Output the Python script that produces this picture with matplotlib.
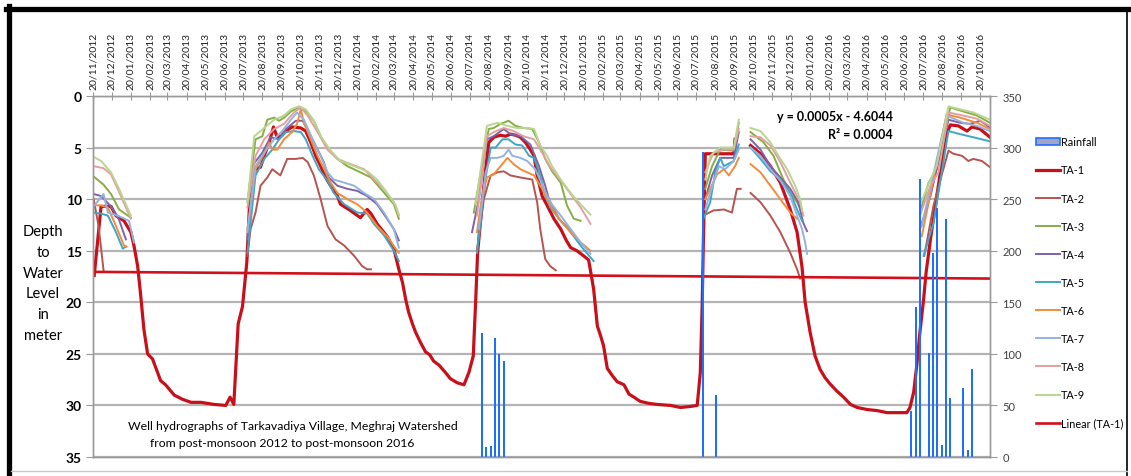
"""Well hydrographs of Tarkavadiya Village (Meghraj Watershed), 2012-2016."""

import matplotlib

matplotlib.use("Agg")
import matplotlib.dates as mdates
import matplotlib.pyplot as plt
import numpy as np
import pandas as pd
from matplotlib.lines import Line2D
from matplotlib.patches import Patch

plt.rcParams["font.family"] = ["Lato", "DejaVu Sans"]

START = pd.Timestamp("2012-11-20")
END_DAY = 1446  # right edge of the date axis, days after START

# Observations: days after 20/11/2012 and depth to water level (m).
# None marks a break in the record (well dry / not measured).
ta1_days = [2, 13, 29, 37, 50, 61, 66, 72, 77, 82, 88, 96, 104, 109, 117, 131, 144, 158, 174, 195,
            214, 221, 227, 234, 241, 245, 248, 254, 262, 270, 276, 284, 291, 297, 303, 311, 321, 335,
            343, 351, 359, 367, 375, 383, 394, 399, 415, 431, 442, 448, 458, 474, 485, 493, 499, 504,
            509, 515, 520, 528, 536, 543, 549, 558, 568, 576, 587, 598, 606, 613, 617, 620, 627, 633,
            638, 646, 657, 665, 673, 681, 689, 697, 705, 711, 716, 724, 732, 743, 754, 763, 770, 780,
            791, 799, 807, 813, 818, 823, 829, 837, 845, 856, 864, 872, 882, 896, 909, 931, 947, 963,
            974, 979, 982, 984, 987, 1011, 1033, 1035, None, 1060, 1076, 1092, 1108, 1124, 1135, 1143,
            1148, 1156, 1164, 1172, 1180, 1188, 1199, 1210, 1221, 1232, 1248, 1264, 1280, 1296, 1312,
            1317, 1323, 1328, 1333, 1339, 1343, 1350, 1358, 1366, 1374, 1382, 1395, 1409, 1417, 1430,
            1446]
ta1_depth = [17.4, 10.7, 10.7, 11.6, 12.1, 13.2, 14.5, 16.5, 19.4, 22.6, 25.0, 25.5, 26.8, 27.6, 28.0,
             29.0, 29.4, 29.7, 29.7, 29.9, 30.0, 29.2, 29.9, 22.1, 20.4, 18.0, 16.1, 8.4, 7.1, 6.9, 5.8,
             4.5, 3.0, 4.0, 3.9, 3.4, 3.0, 3.1, 3.4, 4.5, 5.8, 6.8, 7.9, 8.7, 9.7, 10.5, 11.1, 11.8,
             11.0, 11.4, 12.4, 13.6, 14.8, 16.8, 18.1, 19.7, 21.0, 22.1, 22.9, 23.9, 24.8, 25.1, 25.7,
             26.1, 26.8, 27.4, 27.8, 28.0, 26.8, 25.2, 19.7, 15.2, 10.6, 7.1, 4.5, 4.0, 3.8, 3.9, 3.7,
             3.8, 4.0, 4.5, 5.2, 5.8, 7.7, 9.7, 10.6, 11.9, 12.9, 14.0, 14.7, 15.0, 15.5, 15.9, 18.7,
             22.3, 23.2, 24.2, 26.4, 27.1, 27.7, 28.0, 28.9, 29.2, 29.6, 29.8, 29.9, 30.0, 30.2, 30.1,
             30.0, 26.8, 20.3, 13.9, 5.6, 5.6, 5.6, 4.2, None, 4.8, 5.6, 6.8, 8.4, 11.0, 13.2, 16.6,
             20.0, 22.9, 25.2, 26.5, 27.3, 27.9, 28.6, 29.2, 29.9, 30.2, 30.4, 30.5, 30.7, 30.7, 30.7,
             30.2, 28.7, 26.1, 22.9, 19.7, 17.1, 13.9, 10.6, 7.4, 4.0, 2.8, 2.9, 3.4, 3.0, 3.2, 4.0]

ta2_days = [1, 9, 17, None,
            249, 254, 262, 270, 281, 289, 302, 313, 327, 338, 346, 356, 367, 378, 391, 405, 421, 434, 442, 448, None,
            619, 630, 641, 652, 662, 673, 689, 708, 716, 721, 729, 737, 746, None,
            987, 1000, 1017, 1030, 1038, 1044, None, 1060, 1076, 1092, 1108, 1124, 1135, 1140, None,
            1340, 1355, 1368, 1379, 1387, 1401, 1411, 1419, 1433, 1446]
ta2_depth = [10.0, 12.6, 16.9, None,
             15.5, 12.9, 11.3, 8.7, 7.9, 7.1, 7.7, 6.1, 6.1, 6.0, 6.4, 7.7, 10.0, 12.6, 13.9, 14.5, 15.5, 16.5, 16.8, 16.8, None,
             15.2, 10.0, 7.7, 7.4, 7.3, 7.7, 7.9, 8.1, 10.3, 12.9, 15.8, 16.5, 16.9, None,
             11.5, 11.1, 11.0, 11.3, 9.0, 9.0, None, 9.4, 10.3, 11.6, 13.2, 15.2, 16.8, 17.7, None,
             15.5, 10.6, 7.7, 5.3, 5.6, 5.8, 6.3, 6.1, 6.3, 6.9]

ta3_days = [1, 17, 29, 42, 61, None,
            249, 262, 273, 281, 292, 300, 308, 319, 332, 343, 356, 367, 378, 394, 410, 431, 448, 464, 474, 485, 493, None,
            614, 625, 638, 646, 657, 670, 681, 694, 708, 719, 729, 740, 754, 764, 775, 786, None,
            987, 998, 1011, 1033, 1041, None, 1060, 1081, 1097, 1113, 1124, 1135, 1143, None,
            1333, 1347, 1360, 1382, 1403, 1425, 1446]
ta3_depth = [7.8, 8.6, 9.5, 11.0, 11.8, None,
             10.3, 4.2, 3.9, 2.3, 2.1, 2.4, 2.1, 1.5, 1.1, 1.5, 2.4, 3.9, 5.0, 6.1, 6.8, 7.4, 7.9, 9.0, 9.7, 10.5, 11.9, None,
             11.3, 7.4, 3.2, 3.1, 2.7, 2.4, 2.9, 3.1, 3.2, 4.5, 6.1, 7.3, 8.4, 10.6, 11.9, 12.1, None,
             9.0, 6.8, 5.2, 5.3, 2.6, None, 3.5, 4.5, 5.8, 8.1, 9.4, 10.3, 11.3, None,
             11.3, 8.4, 7.1, 1.1, 1.5, 1.9, 2.6]

ta4_days = [1, 13, 29, 42, 53, None,
            249, 260, 273, 286, 300, 311, 327, 338, 348, 362, 372, 380, 394, 410, 426, 442, 458, 474, 485, 493, None,
            611, 622, 635, 646, 662, 673, 689, 705, 719, 729, 735, 740, 751, 764, 780, 797, None,
            987, 998, 1011, 1033, 1041, None, 1060, 1076, 1092, 1108, 1124, 1137, 1145, 1151, None,
            1333, 1350, 1379, 1398, 1414, 1430, 1438, 1446]
ta4_depth = [9.5, 9.7, 10.7, 12.0, 13.9, None,
             13.9, 6.5, 5.5, 4.0, 4.2, 3.2, 2.4, 2.4, 3.5, 5.2, 6.4, 7.9, 8.7, 9.0, 9.2, 9.7, 10.5, 11.9, 12.9, 14.0, None,
             13.2, 10.0, 4.2, 3.9, 3.2, 3.7, 3.9, 4.7, 6.8, 8.7, 10.0, 10.6, 11.9, 12.7, 13.9, 14.8, None,
             10.0, 7.7, 6.0, 6.0, 3.5, None, 4.2, 5.2, 6.8, 7.9, 9.0, 10.3, 12.3, 13.1, None,
             12.9, 9.7, 2.3, 2.6, 2.7, 2.4, 2.7, 3.1]

ta5_days = [1, 13, 24, 37, 48, 53, None,
            249, 262, 276, 289, 300, 311, 324, 335, 343, 354, 364, 378, 388, 405, 426, 442, 453, 469, 485, 493, None,
            619, 630, 641, 649, 660, 670, 681, 692, 703, 711, 721, 729, 737, 754, 770, 786, 797, 807, None,
            984, 995, 1003, 1011, 1017, 1033, 1041, None, 1060, 1076, 1092, 1108, 1124, 1135, 1143, None,
            1339, 1355, 1379, 1398, 1419, 1446]
ta5_depth = [11.3, 11.4, 11.6, 13.2, 14.8, 14.6, None,
             15.2, 7.7, 6.1, 5.2, 4.2, 3.5, 3.4, 3.5, 4.2, 5.8, 7.1, 8.2, 9.4, 10.5, 11.3, 11.4, 12.4, 13.5, 15.0, 16.0, None,
             15.2, 9.0, 5.0, 5.0, 4.2, 4.2, 4.7, 4.8, 5.8, 6.0, 7.7, 9.7, 10.8, 12.1, 13.2, 14.5, 15.3, 16.0, None,
             11.9, 10.3, 7.4, 6.0, 6.8, 6.3, 4.7, None, 5.0, 6.1, 7.3, 8.1, 9.4, 11.0, 12.1, None,
             15.5, 12.3, 3.4, 3.7, 4.0, 4.4]

ta6_days = [1, 13, 24, 37, 50, 54, None,
            249, 262, 276, 284, 289, 297, 308, 321, 329, 335, 340, 351, 362, 375, 383, 394, 410, 426, 442, 458, 474, 488, 493, None,
            619, 625, 635, 646, 657, 668, 678, 689, 700, 711, 724, 737, 754, 770, 786, 802, None,
            987, 995, 1006, 1017, 1025, 1035, 1041, None, 1060, 1076, 1092, 1108, 1124, 1135, None,
            1336, 1376, 1398, 1425, 1446]
ta6_depth = [10.6, 10.6, 10.8, 12.6, 14.5, 14.6, None,
             12.9, 7.1, 5.6, 4.5, 5.2, 5.2, 4.2, 3.5, 2.7, 1.3, 2.6, 4.2, 5.8, 7.4, 8.4, 9.4, 10.0, 10.5, 11.3, 12.6, 13.6, 14.8, 15.2, None,
             13.2, 10.6, 7.9, 7.6, 6.8, 6.0, 6.6, 7.1, 7.4, 7.7, 9.0, 10.6, 12.1, 13.2, 14.2, 15.0, None,
             10.0, 9.0, 7.6, 7.1, 7.7, 6.8, 6.0, None, 6.6, 7.4, 8.7, 10.0, 11.3, 11.9, None,
             13.6, 1.8, 2.1, 2.6, 3.2]

ta7_days = [1, 13, 17, 24, 40, 58, 66, None,
            249, 262, 276, 292, 305, 319, 329, 340, 354, 367, 378, 388, 405, 421, 437, 453, 469, 485, 493, None,
            622, 633, 641, 652, 662, 670, 676, 689, 700, 713, 727, 737, 754, 770, 786, 802, None,
            987, 1000, 1009, 1019, 1033, 1041, None, 1060, 1076, 1092, 1108, 1124, 1135, 1143, 1148, 1151, None,
            1336, 1376, 1403, 1425, 1446]
ta7_depth = [10.7, 9.8, 9.5, 11.3, 11.6, 12.1, 14.2, None,
             13.2, 6.8, 5.5, 4.2, 3.4, 2.3, 1.6, 2.3, 4.2, 5.8, 7.4, 8.1, 8.4, 8.7, 9.4, 10.0, 11.3, 12.9, 14.7, None,
             12.9, 7.4, 6.0, 6.0, 5.8, 5.2, 5.8, 6.0, 6.3, 7.1, 9.0, 10.3, 11.6, 12.9, 14.2, 15.3, None,
             11.0, 8.4, 6.8, 7.1, 6.3, 5.2, None, 5.0, 5.8, 7.1, 8.2, 9.7, 11.6, 12.9, 14.2, 15.3, None,
             12.6, 1.9, 2.6, 2.9, 3.4]

ta8_days = [1, 17, 29, 42, 61, None,
            249, 262, 276, 292, 308, 324, 335, 346, 362, 378, 394, 415, 437, 453, 469, 485, 493, None,
            619, 635, 646, 662, 678, 694, 711, 727, 737, 754, 770, 786, 802, None,
            987, 1000, 1017, 1033, 1041, None, 1060, 1076, 1092, 1108, 1124, 1140, 1145, None,
            1333, 1350, 1363, 1379, 1403, 1425, 1446]
ta8_depth = [6.8, 7.0, 7.6, 9.3, 11.9, None,
             10.8, 5.8, 4.2, 3.2, 2.7, 1.6, 1.1, 1.9, 3.5, 5.2, 6.1, 6.6, 7.1, 8.1, 9.0, 10.3, 11.6, None,
             11.6, 3.9, 3.5, 3.1, 3.4, 3.9, 4.2, 5.8, 6.9, 8.2, 9.5, 10.8, 12.4, None,
             7.4, 5.5, 5.2, 5.2, 3.2, None, 3.9, 4.0, 4.8, 6.4, 8.4, 10.3, 11.6, None,
             11.6, 8.7, 7.4, 1.6, 1.9, 2.2, 2.9]

ta9_days = [1, 13, 29, 42, 61, None,
            249, 260, 276, 292, 308, 319, 332, 343, 356, 367, 383, 399, 421, 442, 458, 474, 488, 493, None,
            617, 635, 652, 668, 684, 700, 711, 721, 732, 740, 754, 770, 786, 802, None,
            987, 995, 1011, 1033, 1041, None, 1060, 1076, 1092, 1105, 1119, 1132, 1140, 1143, None,
            1333, 1350, 1360, 1379, 1398, 1419, 1446]
ta9_depth = [5.9, 6.3, 7.4, 9.0, 11.6, None,
             10.3, 3.9, 3.1, 2.3, 1.9, 1.3, 1.0, 1.3, 2.4, 3.9, 5.3, 6.3, 6.8, 7.3, 8.1, 9.4, 10.6, 11.5, None,
             10.5, 2.9, 2.6, 2.9, 3.1, 3.1, 3.2, 4.8, 5.8, 6.8, 8.1, 9.4, 10.5, 11.5, None,
             8.1, 5.8, 5.0, 5.0, 2.3, None, 3.1, 3.4, 4.5, 5.8, 7.1, 8.7, 10.0, 11.1, None,
             10.6, 8.1, 6.8, 1.0, 1.3, 1.6, 2.3]

# weekly rainfall (mm), secondary axis
rain_days = [627, 634, 641, 648, 655, 662, 983, 1004,
             1319, 1326, 1333, 1347, 1354, 1361, 1368, 1375, 1382, 1403, 1410, 1417]
rain_mm = [120, 10, 11, 115, 100, 93, 296, 60,
           45, 145, 270, 101, 198, 241, 12, 231, 57, 67, 7, 85]

# Excel linear trendline of TA-1, value at both ends of the axis
trend_days = [0, END_DAY]
trend_depth = [17.05, 17.7]

SERIES = [
    ("TA-1", ta1_days, ta1_depth, "#C8101A", 2.3),
    ("TA-2", ta2_days, ta2_depth, "#B65450", 1.4),
    ("TA-3", ta3_days, ta3_depth, "#86AD46", 1.4),
    ("TA-4", ta4_days, ta4_depth, "#7F62A8", 1.4),
    ("TA-5", ta5_days, ta5_depth, "#3FA6C4", 1.4),
    ("TA-6", ta6_days, ta6_depth, "#F28C3C", 1.4),
    ("TA-7", ta7_days, ta7_depth, "#94B2DE", 1.4),
    ("TA-8", ta8_days, ta8_depth, "#E3A0A0", 1.4),
    ("TA-9", ta9_days, ta9_depth, "#B8D68E", 1.4),
]
RAIN_BLUE = "#1F6FFF"
TREND_RED = "#D0101A"
AXIS_GREY = "#9a9a9a"
GRID_GREY = "#b4b4b4"


def to_num(days):
    return mdates.date2num(START) + np.array(days, dtype=float)


W, H = 1131, 477
fig = plt.figure(figsize=(W / 100, H / 100), dpi=100)
ax = fig.add_axes([93 / W, 19 / H, 897 / W, 361 / H])

for name, days, depth, color, lw in SERIES:
    ax.plot(to_num(days), np.array(depth, dtype=float), color=color, lw=lw, zorder=3)
ax.plot(to_num(trend_days), trend_depth, color=TREND_RED, lw=1.9, zorder=4)

ax.set_ylim(35, 0)
ax.set_yticks(range(0, 36, 5))
ax.set_xlim(to_num([0, END_DAY]))
ax.yaxis.grid(True, color=GRID_GREY, lw=1.6, zorder=0)
ax.set_axisbelow(True)

ax.xaxis.set_ticks_position("top")
ax.xaxis.set_major_locator(mdates.MonthLocator(bymonthday=20))
ax.xaxis.set_major_formatter(mdates.DateFormatter("%d/%m/%Y"))
ax.tick_params(axis="x", direction="inout", length=6, color=AXIS_GREY, labelsize=7.5,
               labelrotation=90, pad=2, labelcolor="#222222")
ax.tick_params(axis="y", direction="out", length=5, color=AXIS_GREY, labelsize=10, pad=3)
for lab in ax.get_yticklabels():
    lab.set_fontweight("bold")

ax2 = ax.twinx()
ax2.bar(to_num(rain_days), rain_mm, width=3.4, color=RAIN_BLUE, zorder=2)
ax2.set_ylim(0, 350)
ax2.set_yticks(range(0, 351, 50))
ax2.tick_params(axis="y", direction="out", length=5, color=AXIS_GREY, labelsize=8,
                labelcolor="#404040", pad=4)

for a in (ax, ax2):
    for side in ("left", "right", "top", "bottom"):
        a.spines[side].set_color(AXIS_GREY)
        a.spines[side].set_linewidth(1.0)

handles = [Patch(facecolor="#A3A3C8", edgecolor=RAIN_BLUE, lw=1.2)]
handles += [Line2D([], [], color=c, lw=lw) for _, _, _, c, lw in SERIES]
handles += [Line2D([], [], color=TREND_RED, lw=1.9)]
labels = ["Rainfall"] + [s[0] for s in SERIES] + ["Linear (TA-1)"]
fig.legend(handles, labels, loc="upper left", bbox_to_anchor=(1032 / W, 1 - 133 / H),
           frameon=False, fontsize=7.8, handlelength=2.15, handletextpad=0.15, labelspacing=1.58,
           borderaxespad=0)

fig.text(43 / W, 1 - 284 / H, "Depth\nto\nWater\nLevel\nin\nmeter", ha="center", va="center",
         fontsize=10.5, linespacing=1.62)
fig.text(893 / W, 1 - 117 / H, "y = 0.0005x - 4.6044", ha="right", va="center",
         fontsize=9, fontweight="bold")
fig.text(893 / W, 1 - 135 / H, "R² = 0.0004", ha="right", va="center",
         fontsize=9, fontweight="bold")
fig.text(293 / W, 1 - 427 / H, "Well hydrographs of Tarkavadiya Village, Meghraj Watershed",
         ha="center", va="center", fontsize=8.8)
fig.text(282 / W, 1 - 444 / H, "from post-monsoon 2012 to post-monsoon 2016",
         ha="center", va="center", fontsize=8.8)

# outer frame of the chart area
fig.add_artist(Line2D([6 / W, 1128 / W], [1 - 9.5 / H] * 2, color="black", lw=3.8))
fig.add_artist(Line2D([9 / W] * 2, [0, 1 - 7 / H], color="black", lw=3.8))
fig.add_artist(Line2D([1127 / W] * 2, [0, 1 - 9 / H], color="black", lw=1.2))
fig.add_artist(Line2D([11 / W, 1127 / W], [1 - 472 / H] * 2, color="#c8c8c8", lw=1.0))

fig.savefig("out.png", dpi=100)
